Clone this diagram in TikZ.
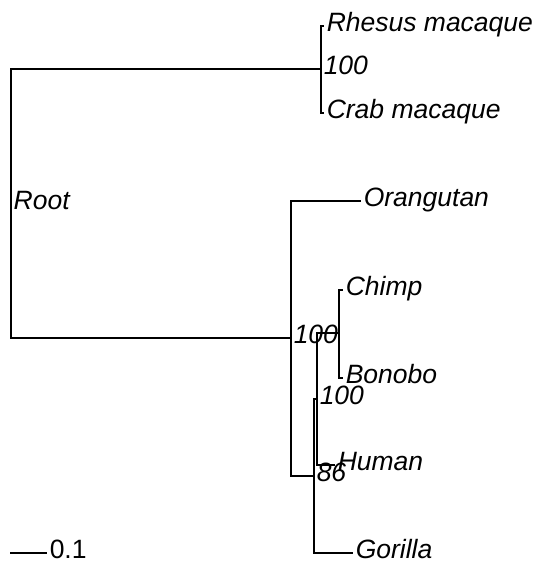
\documentclass[tikz,border=0pt]{standalone}
\usepackage{fontspec}
\setmainfont{Liberation Sans}
\begin{document}
\begin{tikzpicture}[x=0.5pt,y=-0.5pt,line width=0.75pt]
		\tikzstyle{leaf} = [anchor=mid west, inner sep=1pt, font=\fontsize{13.25}{15}\selectfont\itshape]
		\tikzstyle{boot} = [leaf]
		\tikzstyle{scalebar} = [leaf, font=\fontsize{13.25}{15}\selectfont\upshape]
		\useasboundingbox (0,0) rectangle (541,571);

		% internal nodes
		\coordinate (nRoot) at (11,204);
		\coordinate (nMac) at (321,69);
		\coordinate (nApe) at (291,338);
		\coordinate (nGor) at (314,476);
		\coordinate (nHom) at (317,399);
		\coordinate (nPan) at (339,333);

		% tips
		\node[leaf] (tRhesus) at (324,26) {Rhesus macaque};
		\node[leaf] (tCrab) at (324,113) {Crab macaque};
		\node[leaf] (tOrang) at (361,201) {Orangutan};
		\node[leaf] (tChimp) at (343,290) {Chimp};
		\node[leaf] (tBonobo) at (343,378) {Bonobo};
		\node[leaf] (tHuman) at (335,465) {Human};
		\node[leaf] (tGor) at (353,553) {Gorilla};

		% node labels
		\node[boot] (bRoot) at (nRoot) {Root};
		\node[boot] (bMac) at (nMac) {100};
		\node[boot] (bApe) at (nApe) {100};
		\node[boot] (bHom) at (nHom) {100};
		\node[boot] (bGor) at (nGor) {86};

		\draw (nRoot) |- (nMac);
		\draw (nRoot) |- (nApe);
		\draw (nMac) |- (tRhesus.mid west);
		\draw (nMac) |- (tCrab.mid west);
		\draw (nApe) |- (tOrang.mid west);
		\draw (nApe) |- (nGor);
		\draw (nGor) |- (tGor.mid west);
		\draw (nGor) |- (nHom);
		\draw (nHom) |- (tHuman.mid west);
		\draw (nHom) |- (nPan);
		\draw (nPan) |- (tChimp.mid west);
		\draw (nPan) |- (tBonobo.mid west);

		% scale bar
		\coordinate (sLeft) at (10,553);
		\node[scalebar] (sText) at (47,553) {0.1};
		\draw (sLeft) -- (sText.mid west);
\end{tikzpicture}
\end{document}
